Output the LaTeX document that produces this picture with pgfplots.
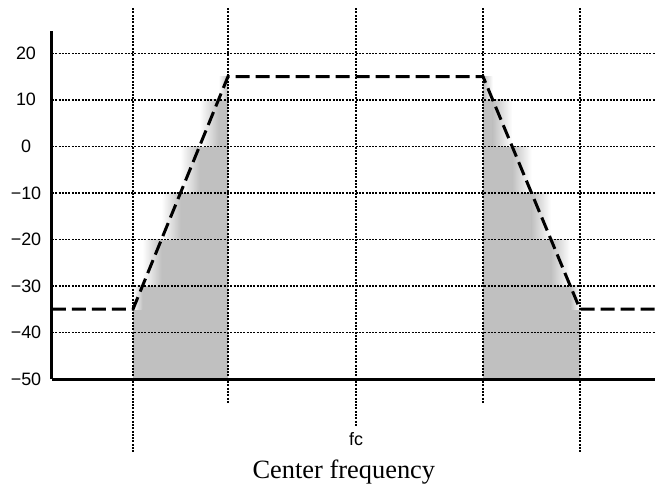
\documentclass[border=0pt]{standalone}
\usepackage{fontspec}
\setmainfont{Liberation Serif}
\newfontfamily\sansf{Liberation Sans}
\newcommand\tl[1]{\mbox{\sansf\fontsize{18}{20}\selectfont #1}}
\usepackage{pgfplots}
\pgfplotsset{compat=1.18}
\definecolor{fillgray}{RGB}{192,192,192}
\begin{document}
\begin{tikzpicture}
\useasboundingbox (-52bp,-112bp) rectangle (603bp,379bp);
\begin{axis}[
  at={(0,0)}, anchor=south west,
  scale only axis, width=603bp, height=348bp,
  xmin=52, xmax=655, ymin=-50, ymax=24.79,
  axis x line=bottom, axis y line=left,
  axis line style={-, line width=3bp},
  clip=false, axis on top,
  ytick={-50,-40,-30,-20,-10,0,10,20},
  yticklabels={\tl{−50},\tl{−40},\tl{−30},\tl{−20},\tl{−10},\tl{0},\tl{10},\tl{20}},
  xtick={356}, xticklabels={\tl{fc}},
  major tick length=0pt,
  ymajorgrids,
  grid style={black, line width=1.5bp, dash pattern=on 2bp off 1.3bp},
  yticklabel style={anchor=center, xshift=-26bp},
  xticklabel style={anchor=center, yshift=-60bp},
  xlabel={Center frequency},
  xlabel style={at={(axis description cs:0.484,0)}, anchor=base, yshift=-99bp, font=\fontsize{26.5}{29}\selectfont},
]
% solid gray areas
\addplot[fill=fillgray, draw=none] coordinates {(133,-50) (133,-35) (142.5,-35) (142.5,-30) (161.5,-30) (161.5,-20) (180.5,-20) (180.5,-10) (199.5,-10) (199.5,0) (218.5,0) (218.5,10) (228,10) (228,-50)} -- cycle;
\addplot[fill=fillgray, draw=none] coordinates {(483,-50) (483,10) (492.7,10) (492.7,0) (512.1,0) (512.1,-10) (531.5,-10) (531.5,-20) (550.9,-20) (550.9,-30) (570.3,-30) (570.3,-35) (580,-35) (580,-50)} -- cycle;
% gradient bands, left ramp
\addplot[draw=none, left color=white, right color=fillgray] coordinates {(133,-35) (142.5,-35) (142.5,-30) (133,-30)} -- cycle;
\addplot[draw=none, left color=white, right color=fillgray] coordinates {(142.5,-30) (161.5,-30) (161.5,-20) (142.5,-20)} -- cycle;
\addplot[draw=none, left color=white, right color=fillgray] coordinates {(161.5,-20) (180.5,-20) (180.5,-10) (161.5,-10)} -- cycle;
\addplot[draw=none, left color=white, right color=fillgray] coordinates {(180.5,-10) (199.5,-10) (199.5,0) (180.5,0)} -- cycle;
\addplot[draw=none, left color=white, right color=fillgray] coordinates {(199.5,0) (218.5,0) (218.5,10) (199.5,10)} -- cycle;
\addplot[draw=none, left color=white, right color=fillgray] coordinates {(218.5,10) (228,10) (228,15) (218.5,15)} -- cycle;
% gradient bands, right ramp
\addplot[draw=none, left color=fillgray, right color=white] coordinates {(483,10) (492.7,10) (492.7,15) (483,15)} -- cycle;
\addplot[draw=none, left color=fillgray, right color=white] coordinates {(492.7,0) (512.1,0) (512.1,10) (492.7,10)} -- cycle;
\addplot[draw=none, left color=fillgray, right color=white] coordinates {(512.1,-10) (531.5,-10) (531.5,0) (512.1,0)} -- cycle;
\addplot[draw=none, left color=fillgray, right color=white] coordinates {(531.5,-20) (550.9,-20) (550.9,-10) (531.5,-10)} -- cycle;
\addplot[draw=none, left color=fillgray, right color=white] coordinates {(550.9,-30) (570.3,-30) (570.3,-20) (550.9,-20)} -- cycle;
\addplot[draw=none, left color=fillgray, right color=white] coordinates {(570.3,-35) (580,-35) (580,-30) (570.3,-30)} -- cycle;
% vertical reference lines
\addplot[black, line width=1.5bp, dash pattern=on 2bp off 1.3bp] coordinates {(133,29.7) (133,-65.7)};
\addplot[black, line width=1.5bp, dash pattern=on 2bp off 1.3bp] coordinates {(228,29.7) (228,-55.2)};
\addplot[black, line width=1.5bp, dash pattern=on 2bp off 1.3bp] coordinates {(356,29.7) (356,-60.3)};
\addplot[black, line width=1.5bp, dash pattern=on 2bp off 1.3bp] coordinates {(483,29.7) (483,-55.2)};
\addplot[black, line width=1.5bp, dash pattern=on 2bp off 1.3bp] coordinates {(580,29.7) (580,-65.7)};
% mask line
\addplot[black, line width=3bp, dash pattern=on 14bp off 6bp] coordinates {(52,-35) (133,-35) (228,15) (483,15) (580,-35) (655,-35)};
\end{axis}
\end{tikzpicture}
\end{document}
